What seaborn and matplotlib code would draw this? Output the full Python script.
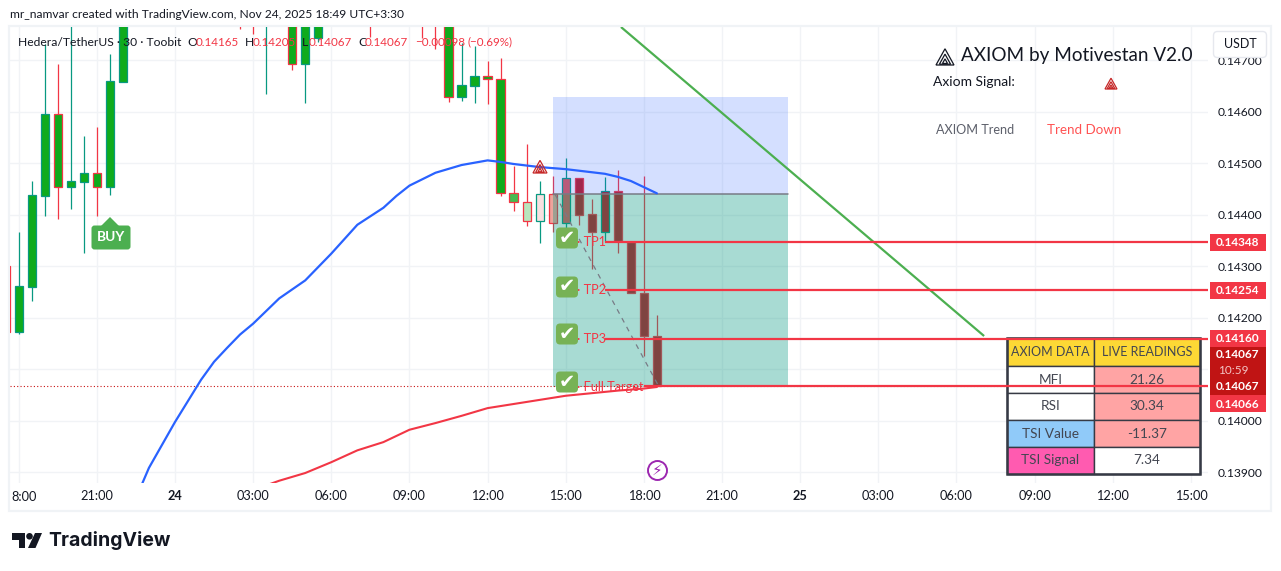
import matplotlib
matplotlib.use("Agg")
import matplotlib.pyplot as plt
import pandas as pd
import seaborn as sns
from matplotlib.patches import Rectangle, FancyBboxPatch, Circle, Polygon
from matplotlib.transforms import Affine2D

sns.set_theme(style="white")
plt.rcParams["font.family"] = ["Lato", "DejaVu Sans"]

# half hour slots, slot 0 is 18:00 on the 23rd
candle_slots = [-1, 0, 1, 2, 3, 4, 5, 6, 7, 8, 17, 18, 19, 21, 22, 23, 27, 31, 32,
                33, 34, 35, 36, 37, 38, 39, 40, 41, 42, 43, 44, 45, 46, 47, 48, 49]
opens = [.14301, .14173, .14260, .14437, .14596, .14454, .14464, .14482, .14454, .14658,
         .14800, .14800, .14780, .14800, .14693, .14744, .14800, .14800, .14800,
         .14790, .14629, .14650, .14670, .14664, .14443, .14425, .14388, .14441, .14384,
         .14472, .14402, .14367, .14447, .14348, .14249, .14165]
highs = [.14320, .14367, .14466, .14732, .14693, .14779, .14553, .14571, .14713, .14830,
         .14830, .14830, .14820, .14820, .14810, .14820, .14820, .14820, .14820,
         .14810, .14734, .14728, .14699, .14705, .14495, .14538, .14466, .14476, .14511,
         .14472, .14431, .14474, .14487, .14348, .14476, .14205]
lows = [.14160, .14169, .14233, .14398, .14392, .14412, .14326, .14398, .14439, .14658,
        .14761, .14751, .14635, .14682, .14617, .14735, .14746, .14744, .14722,
        .14619, .14621, .14617, .14616, .14437, .14408, .14379, .14346, .14367, .14351,
        .14381, .14295, .14348, .14326, .14249, .14126, .14067]
closes = [.14173, .14262, .14439, .14596, .14454, .14466, .14482, .14454, .14660, .14800,
          .14780, .14780, .14800, .14693, .14790, .14800, .14790, .14780, .14780,
          .14629, .14652, .14670, .14664, .14443, .14425, .14388, .14441, .14384, .14472,
          .14400, .14367, .14447, .14350, .14249, .14165, .14067]
# strength class of each candle, 0 strong bull ... 6 strong bear
strength = [0] * 24 + [1, 2, 3, 4, 5, 6, 6, 6, 6, 6, 6, 6]

blue_slots = [9, 10, 12, 14, 15, 16, 17, 18, 20, 22, 24, 26, 28, 29, 30, 32, 34, 36, 37, 38, 40, 42, 44, 45, 46, 47, 48, 49]
blue_prices = [.13850, .13909, .13998, .14080, .14115, .14142, .14168, .14189, .14238, .14273, .14325, .14381,
               .14414, .14437, .14457, .14482, .14497, .14506, .14503, .14499, .14493, .14489,
               .14483, .14480, .14474, .14466, .14454, .14442]
red_slots = [19, 20, 22, 24, 26, 28, 30, 32, 34, 36, 38, 40, 42, 44, 46, 48, 49]
red_prices = [.13875, .13884, .13899, .13920, .13943, .13959, .13983, .13996, .14010, .14025,
              .14033, .14041, .14049, .14054, .14059, .14063, .14066]

time_hours = [-6, -3, 0, 3, 6, 9, 12, 15, 18, 21, 24, 27, 30, 33, 36, 39]
time_labels = ["", "21:00", "24", "03:00", "06:00", "09:00", "12:00", "15:00", "18:00",
               "21:00", "25", "03:00", "06:00", "09:00", "12:00", "15:00"]
price_ticks = [.139, .140, .141, .142, .143, .144, .145, .146, .147]
# 0.14100 sits behind the last price block, so it has no label
price_labels = ["0.13900", "0.14000", "", "0.14200", "0.14300", "0.14400", "0.14500", "0.14600", "0.14700"]

entry_price = .14441
box_top = .14629
box_bottom = .14066
box_hours = [14.5, 23.55]
tp_names = ["TP1", "TP2", "TP3", "Full Target"]
tp_prices = [.14348, .14254, .14160, .14067]
trend_hours = [17.12, 31.06]
trend_prices = [.14765, .14165]
dash_hours = [14.6, 18.52]
dash_prices = [.14439, .14072]

table_heads = ["AXIOM DATA", "LIVE READINGS"]
table_names = ["MFI", "RSI", "TSI Value", "TSI Signal"]
table_values = ["21.26", "30.34", "-11.37", "7.34"]

UP = "#089981"
DOWN = "#f23645"
TEXT = "#131722"
BODY = ["#0fab1c", "#45bb50", "#b8e6bd", "#f8e0e0", "#eda49c", "#dd595a", "#c01820"]


def slot_hour(slot):
    return slot / 2 - 6


fig = plt.figure(figsize=(12.81, 5.71), dpi=100, facecolor="white")
ax = fig.add_axes([10 / 1281, 1 - 483 / 571, 1198 / 1281, 456 / 571])
ax.set_xlim(-6.334, 39.655)
ax.set_ylim(.138796, .14765)

# pixel coordinates of the picture, for the overlays
px = Affine2D().scale(1, -1).translate(0, 571)

for side in ax.spines.values():
    side.set_visible(False)
ax.grid(True, color="#f1f3f6", lw=1)
ax.set_axisbelow(True)
ax.set_xticks(time_hours)
ax.set_xticklabels(time_labels, fontsize=9.2, color=TEXT)
ax.set_yticks(price_ticks)
ax.set_yticklabels(price_labels, fontsize=8.7, color=TEXT)
ax.yaxis.tick_right()
ax.tick_params(axis="both", length=0)
ax.tick_params(axis="y", pad=7)
ax.tick_params(axis="x", pad=5)

# candles
hours = [slot_hour(s) for s in candle_slots]
for h, o, hi, lo, c, k in zip(hours, opens, highs, lows, closes, strength):
    edge = UP if c >= o else DOWN
    ax.vlines(h, lo, hi, color=edge, lw=0.9, zorder=2)
    ax.bar(h, abs(c - o), bottom=min(o, c), width=0.32, color=BODY[k], edgecolor=edge, lw=0.9, zorder=2.1)

# trade boxes on top of the candles
ax.add_patch(Rectangle((box_hours[0], entry_price), box_hours[1] - box_hours[0], box_top - entry_price,
                       fc="#2962ff", alpha=0.2, lw=0, zorder=2.5))
ax.add_patch(Rectangle((box_hours[0], box_bottom), box_hours[1] - box_hours[0], entry_price - box_bottom,
                       fc="#089981", alpha=0.35, lw=0, zorder=2.5))
ax.plot(box_hours, [entry_price, entry_price], color="#787b86", lw=1.1, zorder=2.6)

# table sits under the target lines
rows_y = [338, 366, 393, 420, 447, 474]
cols_x = [1007, 1094, 1200]
cell_left = ["#fdd835", "white", "white", "#90caf9", "#ff5bb0"]
cell_right = ["#fdd835", "#ffa4a4", "#ffa4a4", "#ffa4a4", "white"]
left_texts = [table_heads[0]] + table_names
right_texts = [table_heads[1]] + table_values
for r in range(5):
    size = 9.0 if r == 0 else 9.8
    for c, fill, txt in ((0, cell_left[r], left_texts[r]), (1, cell_right[r], right_texts[r])):
        ax.add_patch(Rectangle((cols_x[c], rows_y[r]), cols_x[c + 1] - cols_x[c], rows_y[r + 1] - rows_y[r],
                               fc=fill, ec="#363a45", lw=1.0, transform=px, clip_on=False, zorder=3))
        ax.text((cols_x[c] + cols_x[c + 1]) / 2, (rows_y[r] + rows_y[r + 1]) / 2, txt, transform=px,
                ha="center", va="center", fontsize=size, color="#434651", zorder=3.1)
ax.add_patch(Rectangle((cols_x[0], rows_y[0]), cols_x[2] - cols_x[0], rows_y[5] - rows_y[0], fc="none",
                       ec="#363a45", lw=1.8, transform=px, clip_on=False, zorder=3.05))

# moving averages
blue = pd.DataFrame({"hour": [slot_hour(s) for s in blue_slots], "price": blue_prices})
red = pd.DataFrame({"hour": [slot_hour(s) for s in red_slots], "price": red_prices})
sns.lineplot(data=blue, x="hour", y="price", color="#2962ff", lw=1.6, estimator=None, ax=ax, zorder=4)
sns.lineplot(data=red, x="hour", y="price", color="#f23645", lw=1.5, estimator=None, ax=ax, zorder=4)
ax.set_xlabel("")
ax.set_ylabel("")

# dotted last price line, trend line, path to target
ax.axhline(tp_prices[3], color="#c81414", lw=0.8, ls=(0, (1, 2)), zorder=2.7)
ax.plot(trend_hours, trend_prices, color="#4caf50", lw=1.6, zorder=4, solid_capstyle="butt")
ax.plot(dash_hours, dash_prices, color="#787b86", lw=0.9, ls=(0, (4, 4)), zorder=4)

# target lines
tp_starts = [16.5, 16.5, 16.5, 18.0]
for name, price, start in zip(tp_names, tp_prices, tp_starts):
    ax.plot([start, 39.655], [price, price], color="#f23645", lw=1.6, zorder=4.2, solid_capstyle="butt")

# check marks and target names
check_y = [238, 287, 334, 382]
name_y = [242, 290, 339, 387]
for cy, ny, name in zip(check_y, name_y, tp_names):
    ax.add_patch(FancyBboxPatch((558.5, cy - 8), 17, 16, boxstyle="round,pad=2.5,rounding_size=4", fc="#77b255",
                                ec="none", transform=px, zorder=5))
    ax.text(567, cy, "\u2714", transform=px, ha="center", va="center", color="white", fontsize=14,
            family="DejaVu Sans", zorder=5.1)
    ax.text(577, ny, "\u00b7 " + name, transform=px, ha="left", va="center", color="#f23645",
            fontsize=9.2, zorder=4.1)


def triangle(x, y, size, color):
    for s in (size, size * 0.62, size * 0.28):
        base = y + size / 2 - (size - s) * 0.12
        pts = [(x - s / 2, base), (x + s / 2, base), (x, base - s * 0.9)]
        ax.add_patch(Polygon(pts, closed=True, fc="none", ec=color, lw=0.9,
                             transform=px, clip_on=False, zorder=5))


triangle(540, 166, 14, "#c62828")
triangle(1111, 83, 12, "#c62828")
triangle(945, 56, 18, "#131722")

# BUY label
ax.add_patch(Polygon([(101, 226), (110, 217), (119, 226)], closed=True, fc="#4caf50", ec="none",
                     transform=px, zorder=5))
ax.add_patch(FancyBboxPatch((93, 227), 36, 21, boxstyle="round,pad=1.5,rounding_size=3", fc="#4caf50",
                            ec="none", transform=px, zorder=5))
ax.text(111, 237, "BUY", transform=px, ha="center", va="center", color="white", fontsize=9.8,
        fontweight="bold", zorder=5.1)

# bolt icon
ax.add_patch(Circle((657.5, 470.5), 9.5, fc="white", ec="#9c27b0", lw=1.4, transform=px, zorder=5))
ax.text(657.5, 470.5, "\u26a1", transform=px, ha="center", va="center", color="#9c27b0", fontsize=11,
        family="DejaVu Sans", zorder=5.1)

# price scale labels
for y0, y1, txt in ((234, 251, "0.14348"), (282, 299, "0.14254"), (330, 347, "0.14160"), (395, 412, "0.14066")):
    ax.add_patch(Rectangle((1210, y0), 56, y1 - y0, fc="#f23645", ec="none", transform=px, clip_on=False, zorder=6))
    ax.text(1238, (y0 + y1) / 2 + 0.5, txt, transform=px, ha="center", va="center", color="white",
            fontsize=8.5, fontweight="bold", clip_on=False, zorder=6.1)
ax.add_patch(Rectangle((1210, 347), 56, 48, fc="#c01414", ec="none", transform=px, clip_on=False, zorder=6))
ax.text(1238, 355, "0.14067", transform=px, ha="center", va="center", color="white", fontsize=8.5,
        fontweight="bold", zorder=6.1)
ax.text(1233, 370.5, "10:59", transform=px, ha="center", va="center", color="#f3c4c4", fontsize=8.5, zorder=6.1)
ax.text(1238, 386, "0.14067", transform=px, ha="center", va="center", color="white", fontsize=8.5,
        fontweight="bold", zorder=6.1)

# currency button
ax.add_patch(FancyBboxPatch((1215, 33), 50, 23, boxstyle="round,pad=1.5,rounding_size=4", fc="white",
                            ec="#e6e8ee", lw=1, transform=px, clip_on=False, zorder=6))
ax.text(1240, 44.5, "USDT", transform=px, ha="center", va="center", color=TEXT, fontsize=9, zorder=6.1)

# panel frame
ax.add_patch(Rectangle((9, 26), 1262, 485, fc="none", ec="#f0f3f6", lw=1.6, transform=px, clip_on=False, zorder=1))

# first time label is cut by the pane edge, weekday labels are bold
ax.text(11, 497, "8:00", transform=px, ha="left", va="center", fontsize=9.2, color=TEXT, clip_on=False)
for lab, name in zip(ax.get_xticklabels(), time_labels):
    if name in ("24", "25"):
        lab.set_fontweight("bold")

# legend line
legend_parts = [(18, "Hedera/TetherUS \u00b7 30 \u00b7 Toobit", TEXT, 8.7), (187, "O", TEXT, 8.7),
                (196, "0.14165", "#f23645", 8.4), (245, "H", TEXT, 8.7), (253, "0.14205", "#f23645", 8.4),
                (302, "L", TEXT, 8.7), (309, "0.14067", "#f23645", 8.4), (358, "C", TEXT, 8.7),
                (365, "0.14067", "#f23645", 8.4), (415, "\u22120.00098", "#f23645", 8.4),
                (467, "(\u22120.69%)", "#f23645", 8.4)]
for x, txt, col, size in legend_parts:
    ax.text(x, 42, txt, transform=px, ha="left", va="center", color=col, fontsize=size, zorder=5.5)

ax.text(10, 15, "mr_namvar created with TradingView.com, Nov 24, 2025 18:49 UTC+3:30", transform=px,
        ha="left", va="center", color=TEXT, fontsize=8.65, clip_on=False)

# indicator header
ax.text(961, 55, "AXIOM by Motivestan V2.0", transform=px, ha="left", va="center", color=TEXT, fontsize=13.6, zorder=5)
ax.text(933, 82, "Axiom Signal:", transform=px, ha="left", va="center", color=TEXT, fontsize=10, zorder=5)
ax.text(936, 130, "AXIOM Trend", transform=px, ha="left", va="center", color="#5d606b", fontsize=9.1, zorder=5)
ax.text(1047, 130, "Trend Down", transform=px, ha="left", va="center", color="#ff5252", fontsize=9.6, zorder=5)

# logo
logo = "#131722"
ax.add_patch(Polygon([(12, 533), (25, 533), (25, 548), (18.5, 548), (18.5, 539.5), (12, 539.5)], closed=True,
                     fc=logo, ec="none", transform=px, clip_on=False))
ax.add_patch(Circle((29.5, 536.3), 3.3, fc=logo, ec="none", transform=px, clip_on=False))
ax.add_patch(Polygon([(35, 533), (42, 533), (35.5, 548), (28, 548)], closed=True, fc=logo, ec="none",
                     transform=px, clip_on=False))
ax.text(48, 541, "TradingView", transform=px, ha="left", va="center", color=logo, fontsize=14,
        fontweight="bold", family="Inter", clip_on=False)

fig.savefig("out.png", dpi=100)
